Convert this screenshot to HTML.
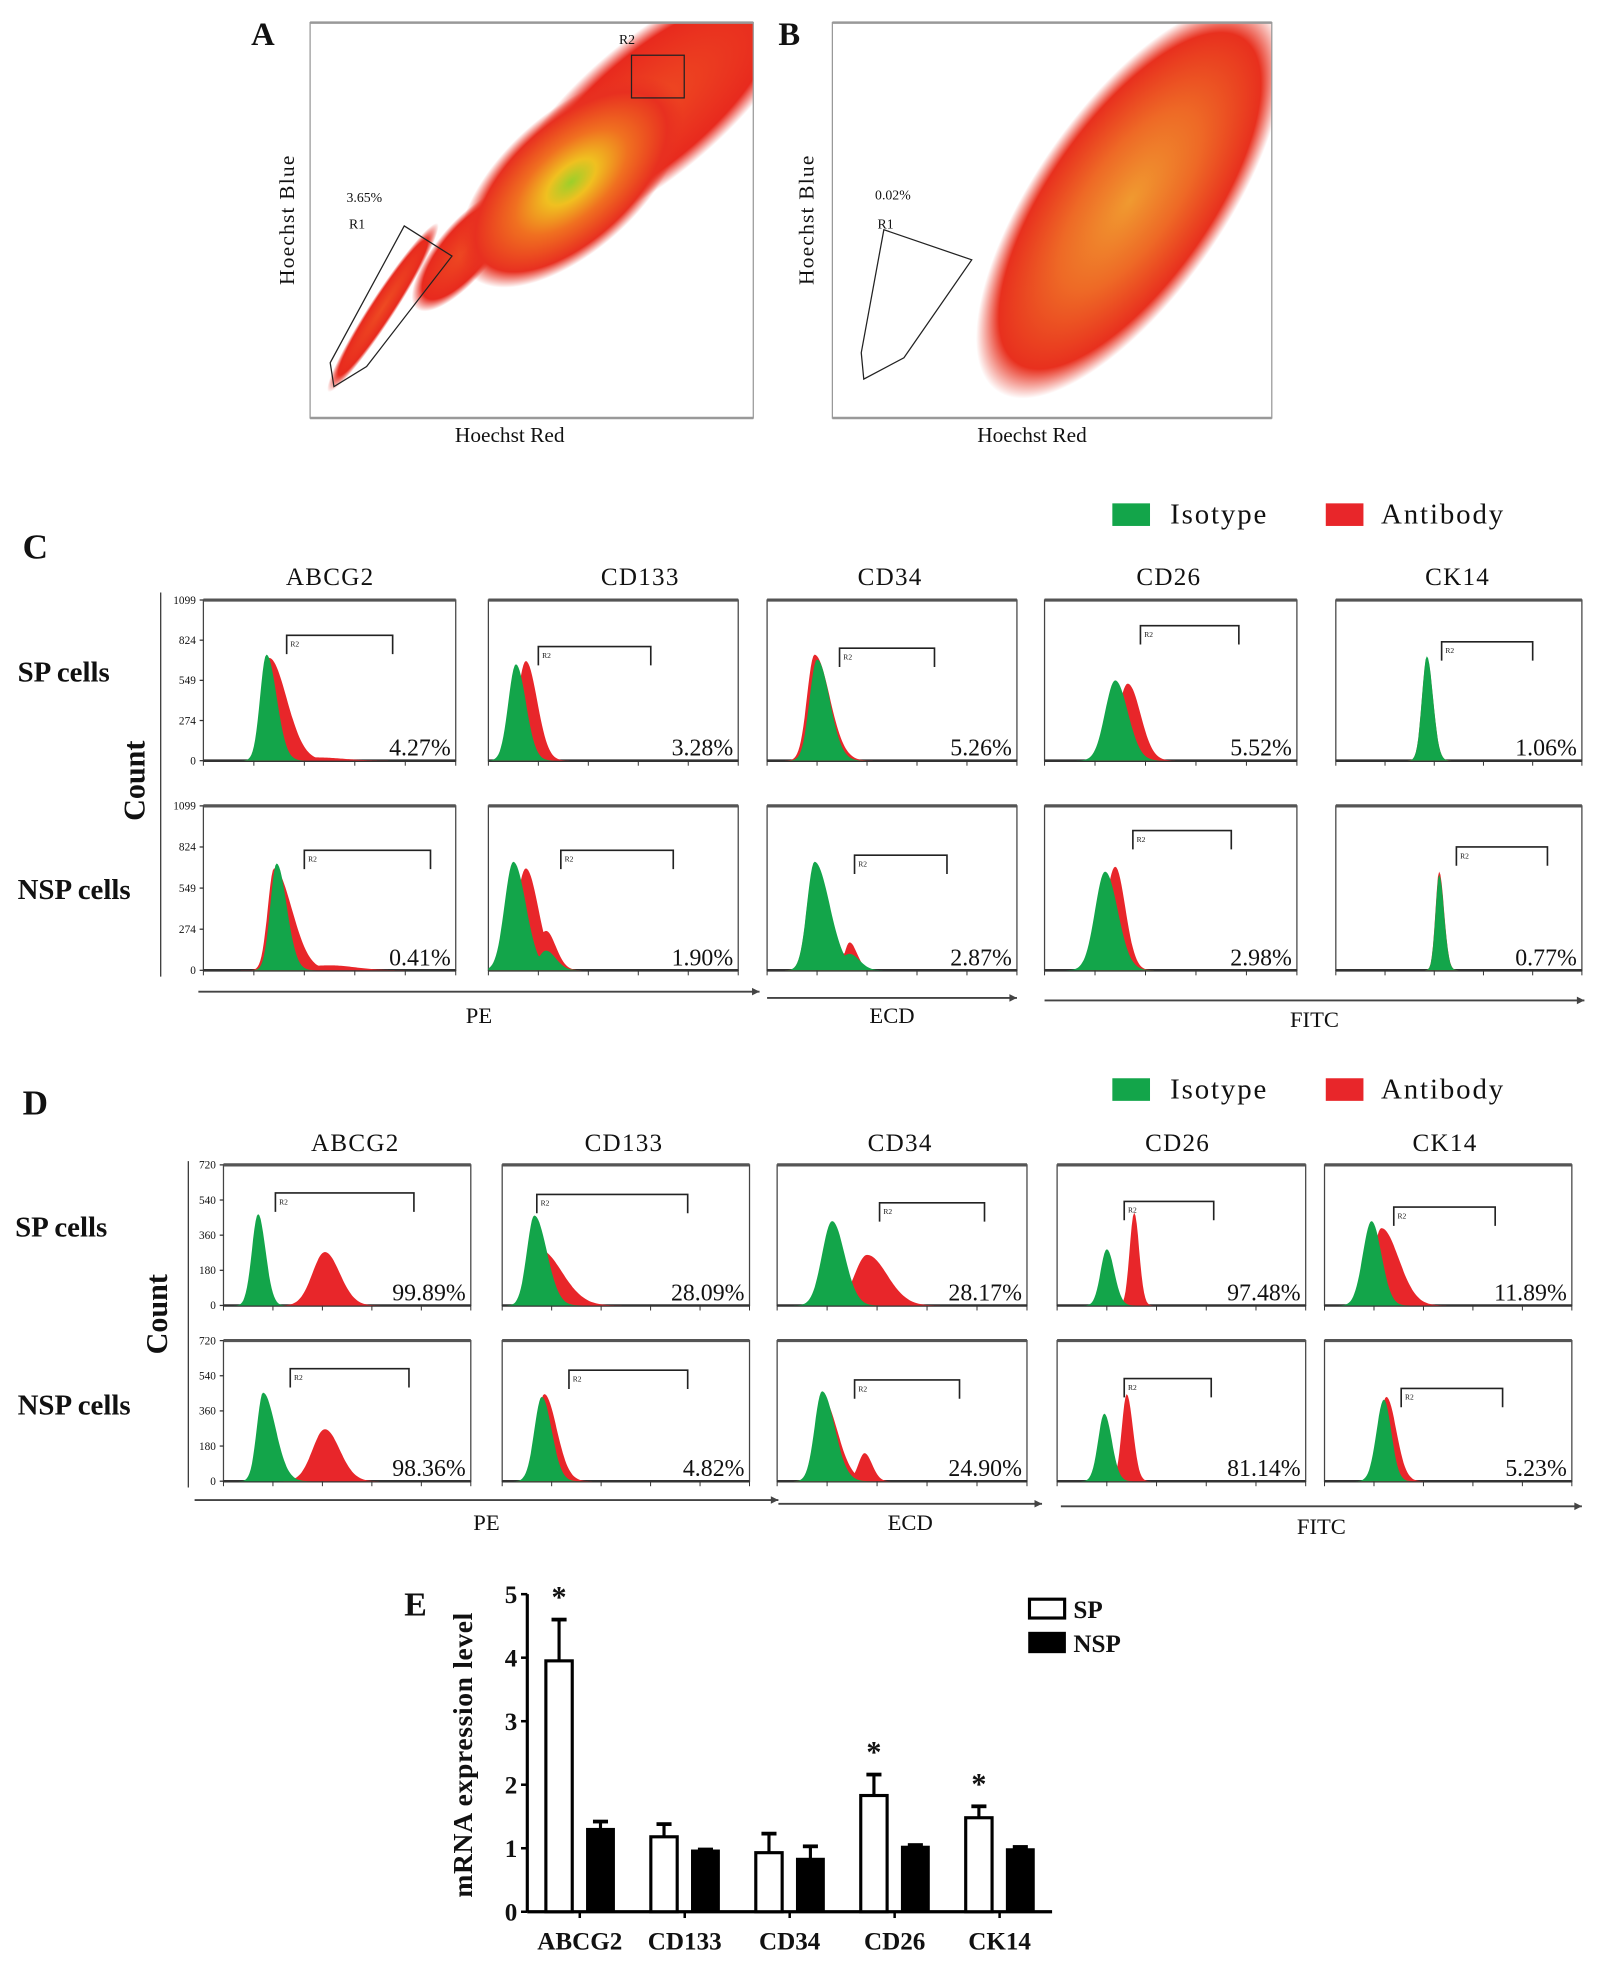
<!DOCTYPE html>
<html><head><meta charset="utf-8"><style>
html,body{margin:0;padding:0;background:#fff;}
svg{display:block;}
text{font-family:"Liberation Serif",serif;fill:#111;}
</style></head><body>
<svg id="fig" width="1607" height="1972" viewBox="0 0 1280 1571" preserveAspectRatio="none" xmlns="http://www.w3.org/2000/svg">
<defs>
<radialGradient id="gA" cx="0.5" cy="0.5" r="0.5">
<stop offset="0" stop-color="#9ccf2a"/><stop offset="0.22" stop-color="#f0c020"/><stop offset="0.5" stop-color="#f07020"/><stop offset="0.85" stop-color="#e83020"/><stop offset="1" stop-color="#e83020" stop-opacity="0"/>
</radialGradient>
<radialGradient id="gR" cx="0.5" cy="0.5" r="0.5">
<stop offset="0" stop-color="#ee4a22"/><stop offset="0.8" stop-color="#e82a1e"/><stop offset="1" stop-color="#e82a1e" stop-opacity="0"/>
</radialGradient>
<radialGradient id="gB" cx="0.5" cy="0.5" r="0.5">
<stop offset="0" stop-color="#f09a30"/><stop offset="0.45" stop-color="#ee6a26"/><stop offset="0.85" stop-color="#e8301e"/><stop offset="1" stop-color="#e8301e" stop-opacity="0"/>
</radialGradient>
<clipPath id="clipA"><rect x="247" y="18" width="353" height="315"/></clipPath>
<clipPath id="clipB"><rect x="663" y="18" width="350" height="315"/></clipPath>
</defs>

<!-- Panel A -->
<g>
<text x="200" y="36" font-size="26" font-weight="bold">A</text>
<g clip-path="url(#clipA)">
<ellipse cx="305" cy="245" rx="80" ry="10" transform="rotate(-57 305 245)" fill="url(#gR)"/>
<ellipse cx="370" cy="200" rx="60" ry="22" transform="rotate(-50 370 200)" fill="url(#gR)"/>
<ellipse cx="520" cy="85" rx="150" ry="55" transform="rotate(-40 520 85)" fill="url(#gR)"/>
<ellipse cx="455" cy="145" rx="110" ry="55" transform="rotate(-42 455 145)" fill="url(#gA)"/>
</g>
<rect x="247" y="18" width="353" height="315" fill="none" stroke="#999" stroke-width="1"/>
<line x1="247" y1="18" x2="600" y2="18" stroke="#999" stroke-width="2"/>
<line x1="247" y1="333" x2="600" y2="333" stroke="#999" stroke-width="2"/>
<polygon points="266,308 263,289 322,180 360,204 292,292" fill="none" stroke="#222" stroke-width="1"/>
<rect x="503" y="44" width="42" height="34" fill="none" stroke="#222" stroke-width="1"/>
<text x="276" y="161" font-size="11">3.65%</text>
<text x="278" y="182" font-size="11">R1</text>
<text x="493" y="35" font-size="11">R2</text>
<text x="406" y="352" font-size="17" text-anchor="middle">Hoechst Red</text>
<text transform="translate(234,175) rotate(-90)" font-size="17" text-anchor="middle" letter-spacing="1">Hoechst Blue</text>
</g>

<!-- Panel B -->
<g>
<text x="620" y="36" font-size="26" font-weight="bold">B</text>
<g clip-path="url(#clipB)">
<ellipse cx="900" cy="160" rx="185" ry="75" transform="rotate(-55 900 160)" fill="url(#gB)"/>
</g>
<rect x="663" y="18" width="350" height="315" fill="none" stroke="#999" stroke-width="1"/>
<line x1="663" y1="18" x2="1013" y2="18" stroke="#999" stroke-width="2"/>
<line x1="663" y1="333" x2="1013" y2="333" stroke="#999" stroke-width="2"/>
<polygon points="688,302 686,281 704,183 774,207 720,285" fill="none" stroke="#222" stroke-width="1"/>
<text x="697" y="159" font-size="11">0.02%</text>
<text x="699" y="182" font-size="11">R1</text>
<text x="822" y="352" font-size="17" text-anchor="middle">Hoechst Red</text>
<text transform="translate(648,175) rotate(-90)" font-size="17" text-anchor="middle" letter-spacing="1">Hoechst Blue</text>
</g>

<g id="hist"></g>
<g id="bars"></g>
</svg>
<script>
// ---------- Histogram data (C and D) ----------
const markers = ["ABCG2","CD133","CD34","CD26","CK14"];
const cPctSP = ["4.27%","3.28%","5.26%","5.52%","1.06%"];
const cPctNSP = ["0.41%","1.90%","2.87%","2.98%","0.77%"];
const dPctSP = ["99.89%","28.09%","28.17%","97.48%","11.89%"];
const dPctNSP = ["98.36%","4.82%","24.90%","81.14%","5.23%"];
const cTicks = ["1099","824","549","274","0"];
const dTicks = ["720","540","360","180","0"];
// peaks: [position (0-1 of axis), height (0-1 of max), sigmaLeft, sigmaRight]
const cIsoSP = [[[0.25,0.66,0.025,0.04]],[[0.11,0.6,0.03,0.04]],[[0.2,0.63,0.03,0.05]],[[0.28,0.5,0.04,0.05]],[[0.37,0.65,0.02,0.025]]];
const cAbSP  = [[[0.26,0.64,0.025,0.07],[0.45,0.02,0.1,0.1]],[[0.15,0.62,0.035,0.045]],[[0.19,0.66,0.03,0.06]],[[0.33,0.48,0.04,0.05]],[[0.37,0.64,0.02,0.025]]];
const cIsoNSP = [[[0.29,0.65,0.025,0.04]],[[0.1,0.66,0.035,0.05],[0.23,0.12,0.03,0.04]],[[0.19,0.66,0.03,0.06],[0.33,0.1,0.04,0.04]],[[0.24,0.6,0.04,0.05]],[[0.42,0.58,0.015,0.02]]];
const cAbNSP  = [[[0.28,0.62,0.025,0.07],[0.5,0.03,0.12,0.1]],[[0.15,0.62,0.04,0.05],[0.23,0.24,0.03,0.04]],[[0.19,0.64,0.03,0.06],[0.33,0.17,0.02,0.03]],[[0.28,0.63,0.04,0.04]],[[0.42,0.6,0.015,0.02]]];
const dIsoSP = [[[0.14,0.65,0.025,0.03]],[[0.13,0.64,0.03,0.05]],[[0.22,0.6,0.04,0.05]],[[0.2,0.4,0.025,0.03]],[[0.19,0.6,0.035,0.04]]];
const dAbSP  = [[[0.41,0.38,0.05,0.06]],[[0.15,0.4,0.03,0.09]],[[0.36,0.36,0.05,0.08]],[[0.31,0.66,0.018,0.02]],[[0.23,0.55,0.035,0.07]]];
const dIsoNSP = [[[0.16,0.63,0.025,0.05]],[[0.16,0.6,0.03,0.04]],[[0.18,0.64,0.03,0.05]],[[0.19,0.48,0.025,0.03]],[[0.24,0.58,0.03,0.03]]];
const dAbNSP  = [[[0.41,0.37,0.05,0.06]],[[0.17,0.62,0.03,0.05]],[[0.18,0.6,0.03,0.06],[0.35,0.2,0.025,0.03]],[[0.28,0.62,0.02,0.025]],[[0.25,0.6,0.03,0.04]]];
// gates [start, end, yFrac from top]
const cGateSP = [[0.33,0.75,0.22],[0.2,0.65,0.29],[0.29,0.67,0.3],[0.38,0.77,0.16],[0.43,0.8,0.26]];
const cGateNSP = [[0.4,0.9,0.27],[0.29,0.74,0.27],[0.35,0.72,0.3],[0.35,0.74,0.15],[0.49,0.86,0.25]];
const dGateSP = [[0.21,0.77,0.2],[0.14,0.75,0.21],[0.41,0.83,0.27],[0.27,0.63,0.26],[0.28,0.69,0.3]];
const dGateNSP = [[0.27,0.75,0.2],[0.27,0.75,0.21],[0.31,0.73,0.28],[0.27,0.62,0.27],[0.31,0.72,0.34]];

const NS="http://www.w3.org/2000/svg";
function mk(tag,attrs,parent){const e=document.createElementNS(NS,tag);for(const k in attrs)e.setAttribute(k,attrs[k]);parent.appendChild(e);return e;}
const H=document.getElementById('hist');

function curve(peaks,f){let v=0;for(const p of peaks){const s=f<p[0]?p[2]:p[3];v=Math.max(v,p[1]*Math.exp(-0.5*Math.pow((f-p[0])/s,2)));}return v;}
function histPath(peaks,x0,w,y0,h){let d=`M${x0},${y0}`;for(let i=0;i<=200;i++){const f=i/200;d+=` L${(x0+f*w).toFixed(1)},${(y0-curve(peaks,f)*h).toFixed(1)}`;}return d+` L${x0+w},${y0} Z`;}

function drawRow(boxes,top,bot,iso,ab,pct,gates,ticks,rowName){
  boxes.forEach((b,i)=>{
    const g=mk('g',{},H);
    
    
    const w=b[1]-b[0],h=bot-top;
    const r=mk('rect',{x:b[0],y:top,width:w,height:h,fill:'none',stroke:'#444','stroke-width':1},g);
    
    mk('line',{x1:b[0],y1:top,x2:b[1],y2:top,stroke:'#555','stroke-width':2.5},g);
    mk('line',{x1:b[0],y1:bot,x2:b[1],y2:bot,stroke:'#333','stroke-width':2},g);
    const pa=mk('path',{d:histPath(ab[i],b[0],w,bot,h),fill:'#e8262a'},g);
    
    const pi=mk('path',{d:histPath(iso[i],b[0],w,bot,h),fill:'#13a54a'},g);
    
    const gt=gates[i],gx1=b[0]+gt[0]*w,gx2=b[0]+gt[1]*w,gy=top+gt[2]*h;
    const gp=mk('path',{d:`M${gx1},${gy+15} L${gx1},${gy} L${gx2},${gy} L${gx2},${gy+15}`,fill:'none',stroke:'#222','stroke-width':1.3},g);
    
    const tr=mk('text',{x:gx1+3,y:gy+9,'font-size':6},g);tr.textContent='R2';
    const t=mk('text',{x:b[1]-4,y:bot-4,'font-size':19,'text-anchor':'end'},g);t.textContent=pct[i];
    
    for(let k=0;k<6;k++){mk('line',{x1:b[0]+k*w/5,y1:bot,x2:b[0]+k*w/5,y2:bot+4,stroke:'#333','stroke-width':0.8},g);}
  });
  const x=boxes[0][0];
  ticks.forEach((tk,k)=>{const y=top+k*(bot-top)/4;
    const t=mk('text',{x:x-6,y:y+3,'font-size':9,'text-anchor':'end'},H);t.textContent=tk;
    mk('line',{x1:x-3,y1:y,x2:x,y2:y,stroke:'#333'},H);});
}
function txt(x,y,s,size,extra,name){const t=mk('text',Object.assign({x:x,y:y,'font-size':size},extra||{}),H);t.textContent=s;if(name){}return t;}
function legend(y,name){
  const g=mk('g',{},H);
  mk('rect',{x:886,y:y-16,width:30,height:18,fill:'#13a54a'},g);
  let t=mk('text',{x:932,y:y,'font-size':23,'letter-spacing':1.5},g);t.textContent='Isotype';
  mk('rect',{x:1056,y:y-16,width:30,height:18,fill:'#e8262a'},g);
  t=mk('text',{x:1100,y:y,'font-size':23,'letter-spacing':1.5},g);t.textContent='Antibody';
}
function axisArrow(x1,x2,y,label,ly){
  mk('line',{x1:x1,y1:y,x2:x2,y2:y,stroke:'#444','stroke-width':1.5},H);
  mk('path',{d:`M${x2},${y} l-6,-3 l0,6 z`,fill:'#444'},H);
  txt((x1+x2)/2,ly,label,18,{'text-anchor':'middle'},'x-axis-title-'+label.toLowerCase());
}
// Panel C
txt(18,445,'C',28,{'font-weight':'bold'},'panel-c-label');
legend(417,'legend-c');
[263,510,709,931,1161].forEach((x,i)=>txt(x,466,markers[i],20,{'text-anchor':'middle','letter-spacing':1},'column-title'));
const cBoxes=[[162,363],[389,588],[611,810],[832,1033],[1064,1260]];
drawRow(cBoxes,478,606,cIsoSP,cAbSP,cPctSP,cGateSP,cTicks,'c-sp');
drawRow(cBoxes,642,773,cIsoNSP,cAbNSP,cPctNSP,cGateNSP,cTicks,'c-nsp');
mk('line',{x1:128,y1:472,x2:128,y2:778,stroke:'#333'},H);
txt(14,543,'SP cells',23,{'font-weight':'bold'},'row-label-sp');
txt(14,716,'NSP cells',23,{'font-weight':'bold'},'row-label-nsp');
txt(0,0,'Count',24,{'font-weight':'bold','text-anchor':'middle',transform:'translate(115,622) rotate(-90)'},'y-axis-title-c');
axisArrow(158,605,790,'PE',815);axisArrow(611,810,795,'ECD',815);axisArrow(832,1262,797,'FITC',818);
// Panel D
txt(18,888,'D',28,{'font-weight':'bold'},'panel-d-label');
legend(875,'legend-d');
[283,497,717,938,1151].forEach((x,i)=>txt(x,917,markers[i],20,{'text-anchor':'middle','letter-spacing':1},'column-title'));
const dBoxes=[[178,375],[400,597],[619,818],[842,1040],[1055,1252]];
drawRow(dBoxes,928,1040,dIsoSP,dAbSP,dPctSP,dGateSP,dTicks,'d-sp');
drawRow(dBoxes,1068,1180,dIsoNSP,dAbNSP,dPctNSP,dGateNSP,dTicks,'d-nsp');
mk('line',{x1:150,y1:925,x2:150,y2:1185,stroke:'#333'},H);
txt(12,985,'SP cells',23,{'font-weight':'bold'},'row-label-sp-d');
txt(14,1127,'NSP cells',23,{'font-weight':'bold'},'row-label-nsp-d');
txt(0,0,'Count',24,{'font-weight':'bold','text-anchor':'middle',transform:'translate(133,1047) rotate(-90)'},'y-axis-title-d');
axisArrow(155,620,1195,'PE',1219);axisArrow(620,830,1198,'ECD',1219);axisArrow(845,1260,1200,'FITC',1222);

// ---------- Bar chart E ----------
const genes = ["ABCG2","CD133","CD34","CD26","CK14"];
const spMean = [3.95,1.18,0.93,1.83,1.48];
const spErr = [0.65,0.2,0.3,0.33,0.18];
const nspMean = [1.3,0.96,0.83,1.02,0.98];
const nspErr = [0.12,0.02,0.2,0.03,0.04];
const sig = [true,false,false,true,true];
const yTicks = [0,1,2,3,4,5];
const B=document.getElementById('bars');
const ax0=420, ax1=838, y0=1523, yTop=1270, yMax=5;
const yS=v=>y0-v/yMax*(y0-yTop);
const groupW=(ax1-ax0)/genes.length;
const xS=i=>ax0+groupW*(i+0.5);
function bm(tag,attrs){return mk(tag,attrs,B);}
let e=bm('line',{x1:ax0,y1:yTop,x2:ax0,y2:y0,stroke:'#000','stroke-width':2.5});

e=bm('line',{x1:ax0,y1:y0,x2:ax1,y2:y0,stroke:'#000','stroke-width':2.5});

yTicks.forEach(v=>{bm('line',{x1:ax0-5,y1:yS(v),x2:ax0,y2:yS(v),stroke:'#000','stroke-width':2});
  const t=bm('text',{x:ax0-8,y:yS(v)+7,'font-size':20,'font-weight':'bold','text-anchor':'end'});t.textContent=v;
  });
const bw=21;
genes.forEach((g,i)=>{
  const c=xS(i);
  bm('line',{x1:c,y1:y0,x2:c,y2:y0+5,stroke:'#000','stroke-width':2});
  const sx=c-bw-6, nx=c+6;
  bm('line',{x1:sx+bw/2,y1:yS(spMean[i]),x2:sx+bw/2,y2:yS(spMean[i]+spErr[i]),stroke:'#000','stroke-width':2.5});
  bm('line',{x1:sx+bw/2-6,y1:yS(spMean[i]+spErr[i]),x2:sx+bw/2+6,y2:yS(spMean[i]+spErr[i]),stroke:'#000','stroke-width':3});
  bm('line',{x1:nx+bw/2,y1:yS(nspMean[i]),x2:nx+bw/2,y2:yS(nspMean[i]+nspErr[i]),stroke:'#000','stroke-width':2.5});
  bm('line',{x1:nx+bw/2-6,y1:yS(nspMean[i]+nspErr[i]),x2:nx+bw/2+6,y2:yS(nspMean[i]+nspErr[i]),stroke:'#000','stroke-width':3});
  const r1=bm('rect',{x:sx,y:yS(spMean[i]),width:bw,height:y0-yS(spMean[i]),fill:'#fff',stroke:'#000','stroke-width':2.5});
  
  const r2=bm('rect',{x:nx,y:yS(nspMean[i]),width:bw,height:y0-yS(nspMean[i]),fill:'#000',stroke:'#000','stroke-width':2});
  
  if(sig[i]){const s=bm('text',{x:sx+bw/2,y:yS(spMean[i]+spErr[i])-10,'font-size':24,'font-weight':'bold','text-anchor':'middle'});s.textContent='*';
    }
  const t=bm('text',{x:c,y:1553,'font-size':20,'font-weight':'bold','text-anchor':'middle'});t.textContent=g;
  
});
e=bm('text',{x:0,y:0,'font-size':22,'font-weight':'bold','text-anchor':'middle',transform:'translate(376,1398) rotate(-90)','letter-spacing':0.5});
e.textContent='mRNA expression level';
e=bm('text',{x:322,y:1287,'font-size':27,'font-weight':'bold'});e.textContent='E';

e=bm('rect',{x:820,y:1274,width:28,height:15,fill:'#fff',stroke:'#000','stroke-width':2.5});

e=bm('text',{x:855,y:1289,'font-size':20,'font-weight':'bold'});e.textContent='SP';

e=bm('rect',{x:820,y:1301,width:28,height:15,fill:'#000',stroke:'#000','stroke-width':2});

e=bm('text',{x:855,y:1316,'font-size':20,'font-weight':'bold'});e.textContent='NSP';

</script>
</body></html>
